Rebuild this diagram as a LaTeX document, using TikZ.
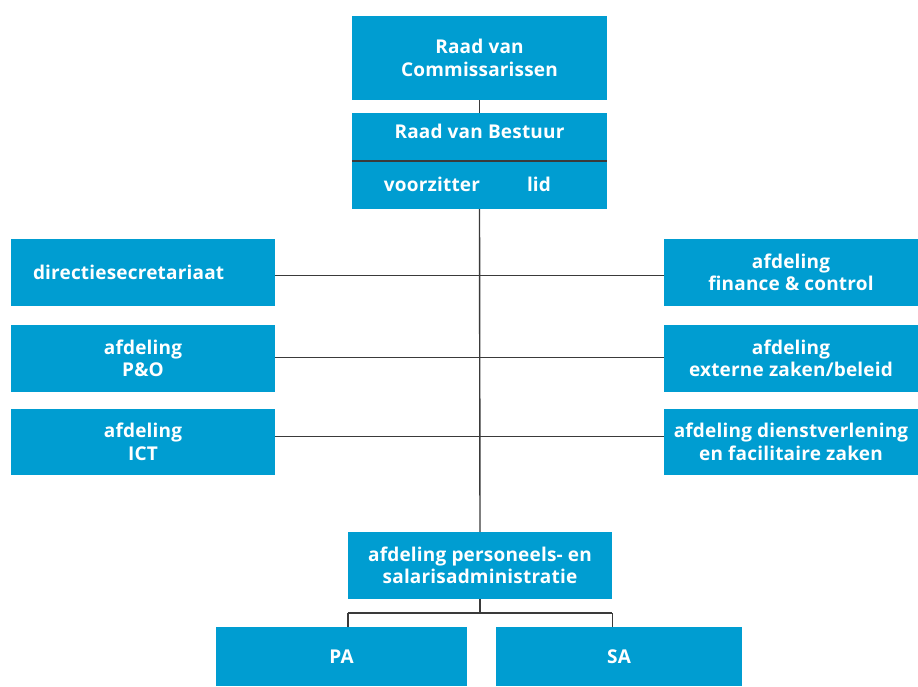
\documentclass[tikz,border=0pt]{standalone}
\usepackage{fontspec}
\setmainfont{Open Sans}[LetterSpace=1]
\definecolor{boxblue}{HTML}{009DD1}
\definecolor{linegray}{HTML}{3A3A3A}
\begin{document}
\begin{tikzpicture}[x=1pt,y=-1pt,
  box/.style={fill=boxblue, draw=none, inner sep=0pt, text=white,
    font=\fontsize{19}{22.5}\selectfont\bfseries, align=center},
  txt/.style={inner sep=0pt, text=white, font=\fontsize{19}{22.5}\selectfont\bfseries},
  conn/.style={draw=linegray, line width=1.4pt}]
\useasboundingbox (0,0) rectangle (918,686);
% top
\node[box, minimum width=255pt, minimum height=84pt] (rvc) at (479.5,58) {Raad van\\Commissarissen};
\node[box, minimum width=255pt, minimum height=96pt] (rvb) at (479.5,161) {};
\node[txt] (rvbt) at (479.5,131) {Raad van Bestuur};
\node[txt] (vz) at (432,184) {voorzitter};
\node[txt] (lid) at (539,184) {lid};
% left column
\node[box, minimum width=264pt, minimum height=67pt, text width=220pt, align=left] (dir) at (143,272.5) {directiesecretariaat};
\node[box, minimum width=264pt, minimum height=67pt] (po) at (143,358.5) {afdeling\\P\&O};
\node[box, minimum width=264pt, minimum height=66pt] (ict) at (143,442) {afdeling\\ICT};
% right column
\node[box, minimum width=254pt, minimum height=67pt] (fin) at (791,272.5) {afdeling\\finance \& control};
\node[box, minimum width=254pt, minimum height=67pt] (ext) at (791,358.5) {afdeling\\externe zaken/beleid};
\node[box, minimum width=254pt, minimum height=66pt] (dv) at (791,442) {afdeling dienstverlening\\en facilitaire zaken};
% bottom
\node[box, minimum width=264pt, minimum height=67pt] (pers) at (480,565.5) {afdeling personeels- en\\salarisadministratie};
\node[box, minimum width=251pt, minimum height=59pt] (pa) at (341.5,656.5) {PA};
\node[box, minimum width=246pt, minimum height=59pt] (sa) at (619,656.5) {SA};
% connectors
\draw[conn] (rvc.south) -- (rvb.north);
\draw[conn] (rvb.west) -- (rvb.east);
\draw[conn] (rvb.south) -- (pers.north);
\draw[conn] ([yshift=-3.2pt]dir.east) -- ([yshift=-3.2pt]dir.east -| fin.west);
\draw[conn] ([yshift=0.8pt]po.east) -- ([yshift=0.8pt]po.east -| ext.west);
\draw[conn] ([yshift=5.3pt]ict.east) -- ([yshift=5.3pt]ict.east -| dv.west);
\coordinate (bus) at (480,613);
\draw[conn] (pers.south) -- (bus);
\draw[conn] (pers.south west |- bus) -- (pers.south east |- bus);
\draw[conn] (pers.south west |- bus) -- (pers.south west |- pa.north);
\draw[conn] (pers.south east |- bus) -- (pers.south east |- sa.north);
\end{tikzpicture}
\end{document}
